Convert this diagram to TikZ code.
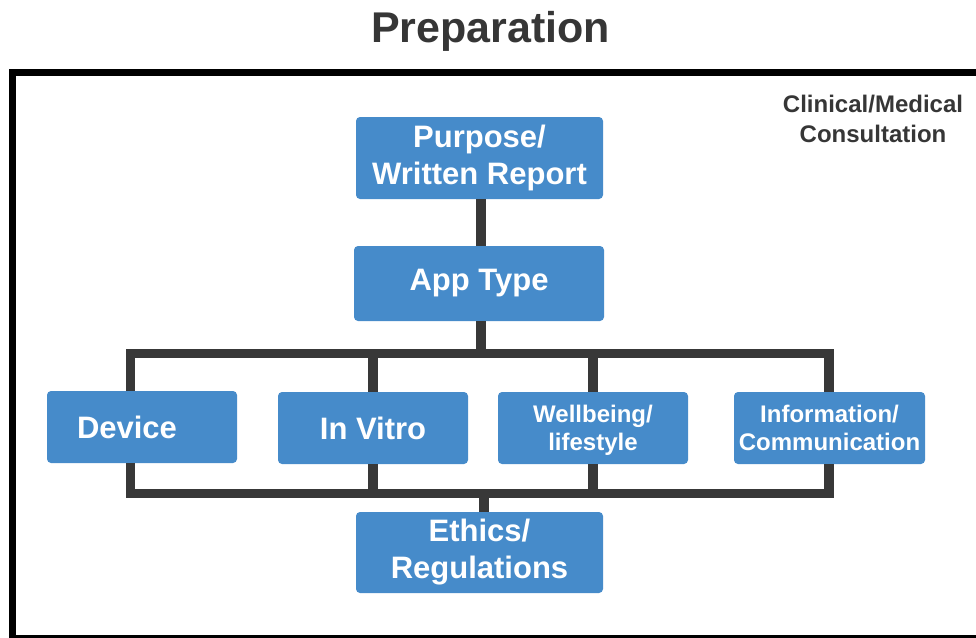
\documentclass[tikz,border=0pt]{standalone}
\usepackage{fontspec}
\setmainfont{Liberation Sans}
\definecolor{boxblue}{HTML}{468BCA}
\definecolor{busgray}{HTML}{383838}
\definecolor{textgray}{HTML}{363636}
\begin{document}
\begin{tikzpicture}[x=1pt, y=-1pt,
  box/.style={fill=boxblue, rounded corners=4pt, text=white, align=center,
    inner sep=0pt, minimum width=190pt, minimum height=72pt,
    font=\fontsize{31}{37}\selectfont\bfseries},
  smallbox/.style={box, font=\fontsize{24}{28}\selectfont\bfseries},
  bus/.style={busgray, line width=9.5pt}]

\useasboundingbox (0,0) rectangle (976,637);
\draw[line width=7pt] (12,72) rectangle (984,638);

\node[textgray, anchor=base, font=\fontsize{43}{50}\selectfont\bfseries] (title) at (490.5,42) {Preparation};
\node[textgray, align=center, font=\fontsize{24}{30}\selectfont\bfseries] (consult) at (873,119) {Clinical/Medical\\Consultation};

\node[box, minimum width=247pt, minimum height=82pt] (purpose) at (479.5,158) {Purpose/\\Written Report};
\node[box, minimum width=250pt, minimum height=75pt] (apptype) at (479,283.5) {App Type};

\node[box] (device) at (142,427) {\hbox{Device\hspace{30pt}}};
\node[box] (invitro) at (373,428) {In Vitro};
\node[smallbox, text depth=0pt] (wellbeing) at (593,428) {Wellbeing/\\lifestyle};
\node[smallbox, minimum width=191pt] (info) at (829.5,428) {Information/\\Communication};

\node[box, minimum width=247pt, minimum height=81pt] (ethics) at (479.5,552.5) {Ethics/\\Regulations};

% bus lines
\coordinate (tl) at (130.5,353.5);
\coordinate (tr) at (829,353.5);
\coordinate (bl) at (130.5,493.5);
\coordinate (br) at (829,493.5);

\draw[bus, line width=10pt] ([xshift=1.5pt]purpose.south) -- ([xshift=2pt]apptype.north);
\draw[bus, line width=10pt] ([xshift=2pt]apptype.south) -- ([xshift=2pt]apptype.south |- tl);
\draw[bus] (device.north -| tl) -- (tl) -- (tr) -- (info.north -| tr);
\draw[bus] (invitro.north) -- (invitro.north |- tl);
\draw[bus] (wellbeing.north) -- (wellbeing.north |- tl);
\draw[bus] (device.south -| bl) -- (bl) -- (br) -- (info.south -| br);
\draw[bus] (invitro.south) -- (invitro.south |- bl);
\draw[bus] (wellbeing.south) -- (wellbeing.south |- bl);
\draw[bus] ([xshift=4.5pt]ethics.north) -- ([xshift=4.5pt]ethics.north |- bl);
\end{tikzpicture}
\end{document}
